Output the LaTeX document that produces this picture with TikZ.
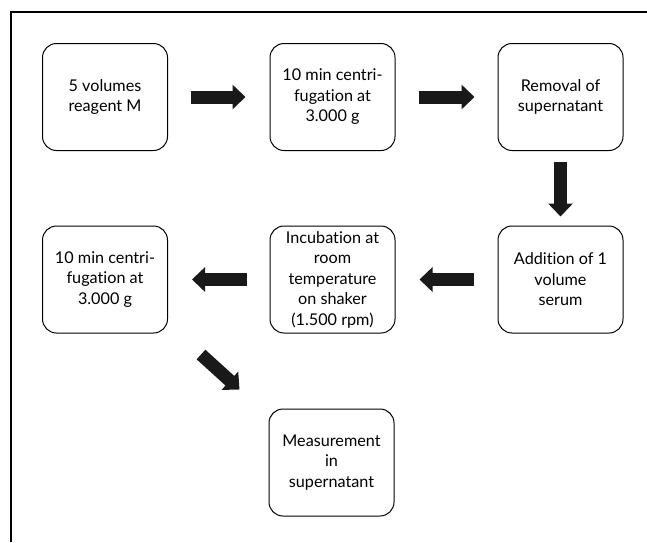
\documentclass[tikz,border=0pt]{standalone}
\usepackage{fontspec}
\setmainfont{Lato}[Ligatures=NoCommon]
\usetikzlibrary{arrows.meta}
\begin{document}
\begin{tikzpicture}[x=1pt,y=1pt,
  stepbox/.style={draw, line width=1pt, rounded corners=14pt, minimum width=125pt, minimum height=107pt,
    inner sep=1pt, align=center, font=\fontsize{16.2}{20.5}\selectfont},
  blockarrow/.style={line width=13pt, -{Triangle[length=13pt,width=24pt]}, black!90}]
\useasboundingbox (0,0) rectangle (647,-542);
\draw[line width=1.6pt] (11,-542) -- (11,-12) -- (647,-12);
\node[stepbox] (b1) at (105,-97) {5 volumes\\reagent M};
\node[stepbox] (b2) at (332.5,-97) {10 min centri-\\fugation at\\3.000 g};
\node[stepbox] (b3) at (560.5,-97) {Removal of\\supernatant};
\node[stepbox] (b4) at (105,-279.5) {10 min centri-\\fugation at\\3.000 g};
\node[stepbox] (b5) at (332.5,-279.5) {Incubation at\\room\\temperature\\on shaker\\(1.500 rpm)};
\node[stepbox] (b6) at (560.5,-279.5) {Addition of 1\\volume\\serum};
\node[stepbox] (b7) at (331.5,-462.5) {Measurement\\in\\supernatant};
\draw[blockarrow] ([xshift=23pt]b1.east) -- ([xshift=-24pt]b2.west);
\draw[blockarrow] ([xshift=23pt]b2.east) -- ([xshift=-23pt]b3.west);
\draw[blockarrow] ([yshift=-11pt]b3.south) -- ([yshift=9pt]b6.north);
\draw[blockarrow] ([xshift=-24pt]b6.west) -- ([xshift=24pt]b5.east);
\draw[blockarrow] ([xshift=-23pt]b5.west) -- ([xshift=24pt]b4.east);
\draw[blockarrow] ([shift={(33pt,-21pt)}]b4.south east) -- ([shift={(-29pt,19pt)}]b7.north west);
\end{tikzpicture}
\end{document}
